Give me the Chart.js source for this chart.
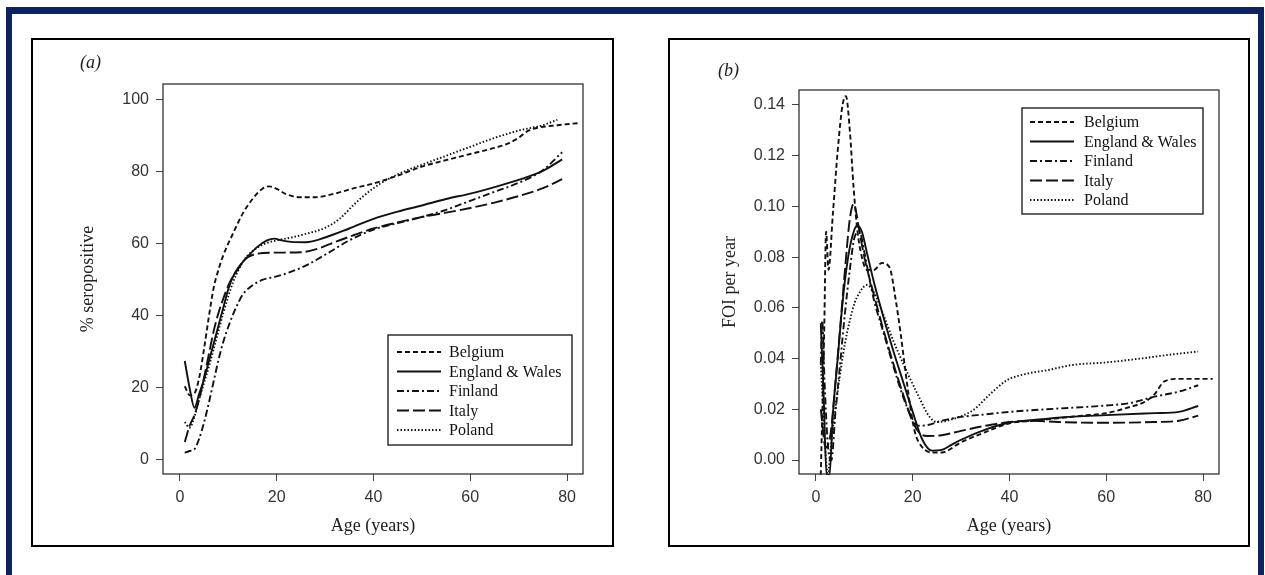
<!DOCTYPE html>
<html><head><meta charset="utf-8">
<script src="https://cdn.jsdelivr.net/npm/chart.js@4/dist/chart.umd.min.js"></script>
<style>
html,body{margin:0;padding:0;background:#fff;width:1265px;height:575px;overflow:hidden;}
body{position:relative;}
#frame{position:absolute;left:6px;top:7px;width:1258px;height:600px;border:6px solid #0b2461;border-top-width:7px;border-bottom:none;box-sizing:border-box;}
.pbox{position:absolute;border:2px solid #000;box-sizing:border-box;pointer-events:none;}
canvas{position:absolute;}
.lab{position:absolute;font-family:"Liberation Serif","Times New Roman",serif;font-style:italic;font-size:18px;color:#222;}
</style></head><body>
<div id="frame"></div>
<canvas id="ca" style="left:32px;top:39px;width:580px;height:506px" width="580" height="506"></canvas>
<canvas id="cb" style="left:669px;top:39px;width:579px;height:506px" width="579" height="506"></canvas>
<div class="pbox" style="left:31px;top:38px;width:583px;height:509px"></div>
<div class="pbox" style="left:668px;top:38px;width:582px;height:509px"></div>
<div class="lab" style="left:80px;top:52px">(a)</div>
<div class="lab" style="left:718px;top:60px">(b)</div>
<script>
// ---------- data ----------
const countries = ['Belgium', 'England & Wales', 'Finland', 'Italy', 'Poland'];
const xTickValues = [0, 20, 40, 60, 80];
const seroTickValues = [0, 20, 40, 60, 80, 100];
const foiTickValues = [0, 0.02, 0.04, 0.06, 0.08, 0.10, 0.12, 0.14];

// (a) % seropositive by age
const belgiumSeroAge = [1,2,3,4,5,6,7,8,9,11,13,15,17,18.5,20,22,25,28,32,36,40,45,50,55,60,65,68,70,72,74,78,82.5];
const belgiumSero    = [20.5,18,18.5,23,31,40,48,53,57,63,68.5,72.5,75.3,76,75.3,73.8,73,73,74,75.5,76.8,79,81.5,83.3,85,86.7,88,89.5,91.5,92.3,93,93.6];
const englandSeroAge = [1,2,3,4,5,6,7,8,9,10,11,12,13,14,16,18,19.5,21,23,26,30,35,40,45,50,55,60,65,70,75,79];
const englandSero    = [27.5,20,14.5,18.5,22.5,27.5,32.5,37.5,42.5,47.5,51,53.3,55,56.5,59.2,61,61.5,61,60.6,60.5,61.8,64.3,67,69,70.7,72.5,74,75.8,77.8,80.3,83.5];
const finlandSeroAge = [1,2,3,4,5,6,7,8,9,10,11,12,13,14.5,17,20,23,26,30,35,40,45,50,55,60,65,70,75,79];
const finlandSero    = [2,2.5,3,6,10.5,16,22,28,33,37,40.5,43.5,46,48,50,51,52.3,54,57,61,64,65.8,67.5,69.5,72,74.5,77,80.5,85.5];
const italySeroAge   = [1,2,3,4,5,6,7,8,9,10,11,12,13,14,16,20,25,28,32,36,40,45,50,55,60,65,70,75,79];
const italySero      = [5,9.5,12.5,17,23,29.5,36,41,45,48.5,51,53,55,56.3,57.3,57.6,57.7,58.5,60.5,62.5,64.3,66,67.5,68.7,70,71.5,73.3,75.5,78];
const polandSeroAge  = [1,2,3,4,5,6,7,8,9,10,11,12,13,14,16,18,20,23,26,30,33,36,40,43,47,50,55,60,64,70,75,78];
const polandSero     = [10.5,9,12,17,21.5,26,31,36,41,45.5,49.5,52.5,55,56.8,59,60.3,61,61.8,62.8,64.5,67,71,75.5,78,80.5,82,84.5,87,89,91.5,93,94.5];

// (b) force of infection per year by age
const belgiumFoiAge = [1,1.7,2.1,2.6,3.5,4.5,5.5,6.2,7,7.8,8.6,9.5,10.5,12,13.6,15.2,16.5,17.5,18.5,19.5,20.5,22,24,26,30,35,40,45,50,55,60,65,68,70,72,75,82];
const belgiumFoi    = [-0.006,0.05,0.09,0.075,0.097,0.122,0.14,0.1435,0.13,0.107,0.09,0.08,0.075,0.075,0.0777,0.076,0.063,0.05,0.035,0.021,0.0107,0.005,0.003,0.003,0.007,0.011,0.0145,0.0155,0.0165,0.0175,0.0185,0.021,0.023,0.026,0.031,0.032,0.032];
const englandFoiAge = [1,1.6,2.2,2.8,3.5,4.5,5.5,6.5,7.5,8.5,9.5,10.5,12,14,16,18,20,22,24,26,28,30,35,40,45,50,60,70,75,79];
const englandFoi    = [0.054,0.025,-0.006,-0.006,0.018,0.04,0.062,0.078,0.088,0.0925,0.09,0.082,0.07,0.056,0.043,0.031,0.019,0.008,0.0037,0.004,0.006,0.008,0.012,0.0148,0.0158,0.0167,0.0177,0.0185,0.019,0.0213];
const finlandFoiAge = [1,1.3,1.8,2.5,3.2,4,5,6,7,8,9,10,11,12,14,16,18,20,21,23,26,30,35,40,50,60,65,70,75,79];
const finlandFoi    = [0.038,0.055,0.03,0.005,0.0,0.018,0.038,0.058,0.075,0.088,0.09,0.082,0.072,0.063,0.05,0.037,0.025,0.016,0.0135,0.0138,0.0155,0.017,0.018,0.019,0.0203,0.0215,0.0225,0.025,0.027,0.0295];
const italyFoiAge   = [1,2,3,4,5,6,7,7.8,9,10,12,14,16,18,20,21.5,23,26,30,35,40,45,50,60,70,75,79];
const italyFoi      = [0.02,0.005,0.01,0.03,0.052,0.075,0.095,0.101,0.09,0.08,0.065,0.051,0.038,0.026,0.015,0.0105,0.0095,0.0098,0.0115,0.0135,0.015,0.0155,0.015,0.0147,0.015,0.0155,0.0175];
const polandFoiAge  = [1,1.5,2,2.5,3,4,5,6,7,8,9,10.5,12,14,16,19,21,23.5,25,28,32.5,36,39.5,43.5,48,53,60,67,73,79];
const polandFoi     = [0.038,0.02,0.002,-0.006,0.004,0.02,0.034,0.046,0.055,0.062,0.066,0.069,0.066,0.057,0.047,0.034,0.026,0.017,0.015,0.016,0.0197,0.026,0.0315,0.034,0.0355,0.0375,0.0385,0.040,0.0415,0.0428];

// ---------- styles ----------
const dashes = [[5,3], [], [7,3,2,3], [12,4], [1.5,2]];
const serif = '"Liberation Serif","Times New Roman",serif';
const sans = '"Liberation Sans",Arial,sans-serif';

function pts(ax, ys) { return ax.map((a, i) => ({x: a, y: ys[i]})); }

function datasets(series) {
  return series.map((s, i) => ({
    label: countries[i],
    data: pts(s[0], s[1]),
    borderColor: '#111',
    borderWidth: 1.9,
    borderDash: dashes[i],
    pointRadius: 0,
    fill: false,
    cubicInterpolationMode: 'monotone',
    clip: 1
  }));
}

const boxPlugin = {
  id: 'boxPlugin',
  afterDraw(chart, args, opts) {
    const ctx = chart.ctx, a = chart.chartArea;
    ctx.save();
    ctx.strokeStyle = '#333';
    ctx.lineWidth = 1.3;
    ctx.setLineDash([]);
    ctx.strokeRect(a.left, a.top, a.right - a.left, a.bottom - a.top);
    // legend
    const L = opts.legend;
    ctx.fillStyle = '#fff';
    ctx.fillRect(L.x, L.y, L.w, L.h);
    ctx.strokeStyle = '#222';
    ctx.lineWidth = 1.4;
    ctx.strokeRect(L.x, L.y, L.w, L.h);
    ctx.font = '16px ' + serif;
    ctx.textBaseline = 'middle';
    ctx.textAlign = 'left';
    chart.data.datasets.forEach((ds, i) => {
      const y = L.row0 + i * L.gap;
      ctx.beginPath();
      ctx.setLineDash(ds.borderDash);
      ctx.lineWidth = 1.9;
      ctx.strokeStyle = '#111';
      ctx.moveTo(L.lx0, y);
      ctx.lineTo(L.lx1, y);
      ctx.stroke();
      ctx.setLineDash([]);
      ctx.fillStyle = '#111';
      ctx.fillText(ds.label, L.tx, y + 1);
    });
    ctx.restore();
  }
};

function makeChart(id, series, yTicks, yMin, yMax, yTitle, yFmt, pad, yWidth, yTitlePad, legend) {
  return new Chart(document.getElementById(id), {
    type: 'line',
    data: { datasets: datasets(series) },
    plugins: [boxPlugin],
    options: {
      responsive: false,
      animation: false,
      events: [],
      layout: { padding: pad },
      plugins: { legend: { display: false }, tooltip: { enabled: false }, boxPlugin: { legend } },
      scales: {
        x: {
          type: 'linear', min: -3.5, max: 83.3,
          afterBuildTicks: (s) => { s.ticks = xTickValues.map(v => ({value: v})); },
          afterFit: (s) => { s.height = 71; },
          grid: { drawOnChartArea: false, drawTicks: true, tickLength: 7, color: '#444', lineWidth: 1 },
          border: { display: false },
          ticks: { font: { family: sans, size: 16 }, color: '#333', padding: 7, maxRotation: 0 },
          title: { display: true, text: 'Age (years)', font: { family: serif, size: 18 }, color: '#222', padding: { top: 0, bottom: 8 } }
        },
        y: {
          type: 'linear', min: yMin, max: yMax,
          afterBuildTicks: (s) => { s.ticks = yTicks.map(v => ({value: v})); },
          afterFit: (s) => { s.width = yWidth; },
          grid: { drawOnChartArea: false, drawTicks: true, tickLength: 7, color: '#444', lineWidth: 1 },
          border: { display: false },
          ticks: { font: { family: sans, size: 16 }, color: '#333', padding: 7, callback: yFmt },
          title: { display: true, text: yTitle, font: { family: serif, size: 18 }, color: '#222', padding: { top: yTitlePad, bottom: 0 } }
        }
      }
    }
  });
}

makeChart('ca',
  [[belgiumSeroAge, belgiumSero], [englandSeroAge, englandSero], [finlandSeroAge, finlandSero], [italySeroAge, italySero], [polandSeroAge, polandSero]],
  seroTickValues, -3.89, 104.44, '% seropositive', (v) => String(v),
  { left: 0, top: 45, right: 29, bottom: 0 }, 131, 45,
  { x: 356, y: 296, w: 184, h: 110, row0: 313, gap: 19.5, lx0: 365, lx1: 409, tx: 417 });

makeChart('cb',
  [[belgiumFoiAge, belgiumFoi], [englandFoiAge, englandFoi], [finlandFoiAge, finlandFoi], [italyFoiAge, italyFoi], [polandFoiAge, polandFoi]],
  foiTickValues, -0.0055, 0.1459, 'FOI per year', (v) => Number(v).toFixed(2),
  { left: 0, top: 51, right: 29, bottom: 0 }, 130, 50,
  { x: 353, y: 69, w: 181, h: 106, row0: 83, gap: 19.5, lx0: 361, lx1: 405, tx: 415 });
</script>
</body></html>
